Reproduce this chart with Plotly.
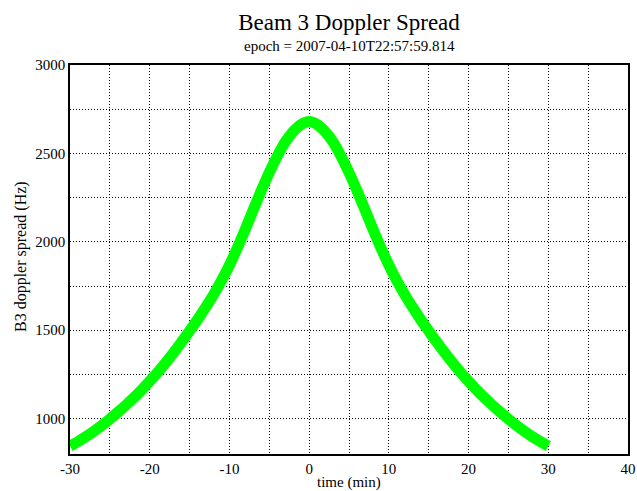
import plotly.graph_objects as go

# time offsets (min) and Beam 3 doppler spread (Hz)
time_min = list(range(-30, 31))
spread_left = [845, 870, 898, 929, 962, 998, 1036, 1076, 1118, 1163,
               1211, 1262, 1316, 1373, 1433, 1496, 1560, 1628, 1701, 1780,
               1868, 1966, 2072, 2182, 2290, 2392, 2484, 2564, 2624, 2664]
spread_peak = [2680]
spread_hz = spread_left + spread_peak + spread_left[::-1]

x_ticks = [-30, -20, -10, 0, 10, 20, 30, 40]
x_tick_labels = ["-30", "-20", "-10", "0", "10", "20", "30", "40"]
y_ticks = [1000, 1500, 2000, 2500, 3000]

title_text = "Beam 3 Doppler Spread"
subtitle_text = "epoch = 2007-04-10T22:57:59.814"
x_title = "time (min)"
y_title = "B3 doppler spread (Hz)"

FONT = "Liberation Serif, Times New Roman, serif"

# plot-area geometry in pixels
L, R, T, B = 70, 9, 65, 37
W, H = 637, 491
PH = H - T - B

fig = go.Figure()
fig.add_trace(go.Scatter(
    x=time_min, y=spread_hz, mode="lines",
    line=dict(color="#00ff00", width=11, shape="spline"),
    showlegend=False, hoverinfo="x+y",
))

dot = "1px,2px"

fig.update_xaxes(
    range=[-30, 40], tickvals=x_ticks, ticktext=x_tick_labels, ticks="", automargin=False,
    showgrid=True, gridcolor="#000000", gridwidth=1, griddash=dot,
    minor=dict(dtick=5, tick0=0, showgrid=True, gridcolor="#000000", gridwidth=1, griddash=dot),
    showline=True, linecolor="black", linewidth=1.5, mirror=True, zeroline=False,
    tickfont=dict(family=FONT, size=15, color="black"), ticklabelstandoff=0,
)
fig.update_yaxes(
    range=[800, 3000], tickvals=y_ticks, ticks="", automargin=False,
    showgrid=True, gridcolor="#000000", gridwidth=1, griddash=dot,
    minor=dict(dtick=250, tick0=0, showgrid=True, gridcolor="#000000", gridwidth=1, griddash=dot),
    showline=True, linecolor="black", linewidth=1.5, mirror=True, zeroline=False,
    tickfont=dict(family=FONT, size=15, color="black"),
)

fig.update_layout(
    width=W, height=H,
    margin=dict(l=L, r=R, t=T, b=B),
    paper_bgcolor="white", plot_bgcolor="white",
    title=dict(text=title_text, x=(L + W - R) / 2 / W, xanchor="center",
               y=1 - 22 / H, yanchor="middle",
               font=dict(family=FONT, size=23, color="black")),
    annotations=[
        dict(text=subtitle_text, xref="paper", yref="paper",
             x=0.5, y=1 + (T - 46) / PH, xanchor="center", yanchor="middle",
             showarrow=False, font=dict(family=FONT, size=15, color="black")),
        dict(text=x_title, xref="paper", yref="paper",
             x=0.5, y=0, yshift=-(482 - (H - B)), xanchor="center", yanchor="middle",
             showarrow=False, font=dict(family=FONT, size=15, color="black")),
        dict(text=y_title, xref="paper", yref="paper", textangle=-90,
             x=0, xshift=-(L - 21), y=1 - (257 - T) / PH, xanchor="center", yanchor="middle",
             showarrow=False, font=dict(family=FONT, size=16, color="black")),
    ],
)

fig.write_html("out.html")
